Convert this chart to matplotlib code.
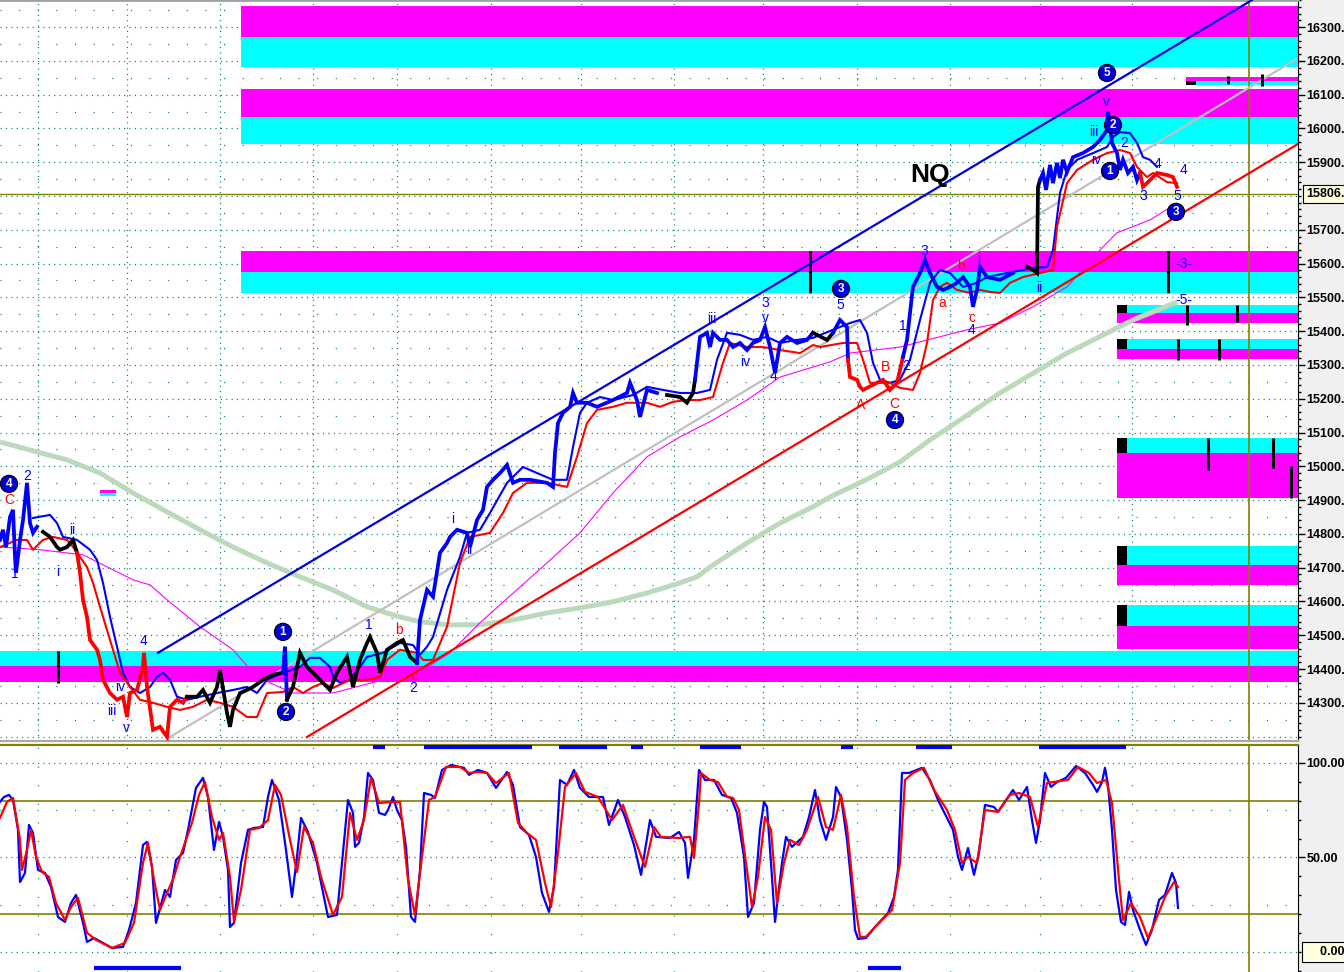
import matplotlib

matplotlib.use("Agg")
import matplotlib.pyplot as plt
import matplotlib.transforms as mtransforms
from matplotlib.patches import Rectangle
from matplotlib.ticker import FixedLocator, FuncFormatter, MultipleLocator

# ---- price (bar number, price) ----
price_x = [0, 3, 6, 10, 13, 15, 16, 20, 23, 27, 30, 33, 37, 43, 50, 57, 60, 67, 73, 77,
           80, 83, 87, 90, 97, 100, 103, 110, 117, 123, 127, 130, 137, 143, 144, 147, 153,
           160, 167, 170, 177, 183, 187, 197, 203, 210, 217, 220, 227, 230, 233, 240, 247,
           253, 263, 273, 283, 285, 287, 293, 300, 307, 313, 320, 330, 337, 347, 353, 360,
           367, 370, 377, 380, 387, 397, 403, 410, 417, 420, 427, 433, 440, 447, 450, 457,
           467, 470, 477, 483, 487, 493, 500, 507, 513, 520, 530, 547, 553, 555, 558, 563,
           570, 573, 577, 587, 597, 613, 627, 630, 637, 640, 647, 657, 667, 680, 687, 693,
           695, 697, 700, 707, 710, 713, 720, 727, 733, 740, 747, 753, 760, 765, 770, 775,
           780, 787, 797, 807, 813, 827, 833, 840, 847, 848, 850, 857, 860, 863, 873, 883,
           890, 897, 900, 903, 907, 910, 913, 920, 925, 930, 937, 943, 950, 957, 963, 970,
           973, 977, 980, 987, 1000, 1013, 1027, 1033, 1037, 1038, 1040, 1043, 1046, 1050,
           1053, 1057, 1060, 1063, 1067, 1073, 1083, 1093, 1100, 1107, 1108, 1112, 1117,
           1120, 1123, 1128, 1133, 1137, 1140, 1143, 1150, 1157, 1167, 1173, 1177]
price = [14782, 14812, 14761, 14850, 14871, 14732, 14685, 14782, 14841, 14951, 14832, 14803,
         14821, 14806, 14791, 14761, 14753, 14761, 14782, 14744, 14685, 14605, 14554, 14486,
         14457, 14427, 14368, 14329, 14309, 14318, 14258, 14329, 14338, 14406, 14448, 14347,
         14220, 14229, 14199, 14288, 14309, 14300, 14318, 14318, 14338, 14300, 14347, 14397,
         14270, 14229, 14279, 14329, 14338, 14347, 14368, 14383, 14389, 14466, 14309, 14347,
         14448, 14406, 14389, 14368, 14338, 14389, 14436, 14347, 14427, 14477, 14495, 14448,
         14389, 14457, 14477, 14486, 14436, 14418, 14545, 14634, 14614, 14744, 14773, 14791,
         14812, 14803, 14761, 14841, 14871, 14939, 14960, 14980, 15004, 14951, 14960, 14960,
         14951, 14939, 15040, 15128, 15158, 15176, 15217, 15188, 15188, 15176, 15196, 15217,
         15247, 15196, 15146, 15226, 15217, 15211, 15205, 15188, 15217, 15256, 15306, 15383,
         15395, 15353, 15395, 15374, 15374, 15353, 15365, 15344, 15365, 15374, 15412, 15353,
         15276, 15365, 15383, 15365, 15374, 15395, 15374, 15395, 15433, 15412, 15315, 15264,
         15256, 15235, 15226, 15241, 15256, 15226, 15247, 15285, 15324, 15374, 15454, 15531,
         15572, 15611, 15572, 15531, 15522, 15531, 15543, 15560, 15531, 15472, 15522, 15590,
         15560, 15552, 15572, 15590, 15581, 15572, 15827, 15847, 15868, 15818, 15892, 15838,
         15898, 15853, 15907, 15871, 15915, 15927, 15945, 15966, 15995, 16049, 15957, 15927,
         15877, 15907, 15868, 15886, 15847, 15868, 15827, 15847, 15868, 15862, 15856, 15827]
price_runs = [(0, 40, "b"), (40, 77, "k"), (77, 187, "r"), (187, 283, "k"), (283, 287, "b"),
              (287, 417, "k"), (417, 660, "b"), (660, 695, "k"), (695, 813, "b"),
              (813, 833, "k"), (833, 848, "b"), (848, 903, "r"), (903, 1020, "b"),
              (1020, 1040, "k"), (1040, 1140, "b"), (1140, 1177, "r")]

# ---- moving averages ----
ma_fast_x = [33, 50, 57, 63, 77, 90, 97, 103, 110, 117, 123, 130, 140, 150, 157, 163, 170, 177,
             187, 200, 217, 233, 247, 257, 267, 283, 300, 310, 320, 330, 333, 340, 350, 360,
             367, 383, 400, 413, 420, 427, 433, 447, 460, 467, 480, 490, 507, 523, 537, 553,
             567, 573, 580, 587, 600, 613, 633, 647, 663, 680, 697, 710, 717, 727, 740, 753,
             767, 780, 797, 813, 833, 850, 860, 867, 873, 880, 890, 900, 910, 920, 930, 940,
             950, 963, 977, 987, 1007, 1033, 1047, 1053, 1060, 1067, 1077, 1093, 1107, 1113,
             1120, 1130, 1137, 1143, 1150, 1157]
ma_fast = [14847, 14856, 14832, 14791, 14782, 14753, 14723, 14655, 14554, 14466, 14389, 14347,
           14329, 14347, 14377, 14389, 14368, 14318, 14309, 14318, 14329, 14338, 14347, 14329,
           14368, 14389, 14406, 14433, 14433, 14406, 14377, 14359, 14368, 14406, 14436, 14448,
           14477, 14471, 14442, 14466, 14495, 14634, 14732, 14803, 14812, 14862, 14951, 14998,
           14980, 14960, 14960, 15057, 15158, 15188, 15205, 15196, 15211, 15235, 15226, 15217,
           15217, 15226, 15315, 15395, 15389, 15374, 15383, 15365, 15374, 15380, 15404, 15424,
           15433, 15395, 15306, 15256, 15247, 15256, 15315, 15433, 15543, 15581, 15572, 15531,
           15543, 15560, 15572, 15587, 15590, 15640, 15809, 15877, 15907, 15927, 15945, 15975,
           15989, 15986, 15957, 15915, 15907, 15886]
ma_slow_x = [0, 17, 27, 33, 43, 53, 67, 73, 87, 93, 100, 110, 120, 130, 140, 153, 167, 180, 193,
             207, 220, 233, 247, 257, 267, 283, 293, 303, 313, 323, 333, 350, 367, 380, 387, 400,
             417, 423, 433, 447, 460, 470, 490, 503, 513, 527, 547, 567, 577, 587, 597, 613, 627,
             647, 660, 673, 687, 700, 713, 723, 730, 747, 763, 780, 800, 813, 820, 843, 857, 863,
             870, 890, 900, 913, 920, 927, 933, 940, 947, 957, 970, 980, 990, 1000, 1010, 1023,
             1040, 1053, 1057, 1067, 1077, 1093, 1107, 1120, 1130, 1137, 1147, 1153, 1167, 1177]
ma_slow = [14761, 14782, 14782, 14753, 14782, 14791, 14782, 14761, 14702, 14655, 14584, 14486,
           14389, 14347, 14309, 14300, 14288, 14279, 14288, 14309, 14300, 14288, 14258, 14258,
           14329, 14332, 14347, 14329, 14347, 14359, 14344, 14368, 14368, 14377, 14427, 14457,
           14448, 14427, 14427, 14525, 14714, 14791, 14803, 14862, 14921, 14951, 14951, 14939,
           15028, 15128, 15167, 15176, 15188, 15188, 15176, 15191, 15196, 15196, 15205, 15306,
           15365, 15353, 15353, 15344, 15335, 15359, 15353, 15365, 15365, 15315, 15247, 15247,
           15232, 15226, 15276, 15365, 15492, 15531, 15543, 15522, 15513, 15522, 15516, 15513,
           15543, 15560, 15572, 15581, 15708, 15838, 15877, 15907, 15927, 15936, 15927, 15886,
           15856, 15868, 15841, 15838]
ma_mid_x = [0, 40, 83, 133, 150, 167, 200, 233, 248, 270, 293, 333, 383, 420, 450, 480, 547,
            580, 613, 647, 680, 713, 747, 780, 830, 850, 900, 967, 1000, 1033, 1067, 1100, 1117,
            1150, 1177]
ma_mid = [14761, 14753, 14738, 14664, 14649, 14605, 14525, 14457, 14406, 14359, 14329, 14329,
          14368, 14392, 14448, 14537, 14714, 14803, 14921, 15028, 15087, 15137, 15196, 15264,
          15309, 15335, 15353, 15404, 15424, 15472, 15531, 15640, 15691, 15729, 15779]
ma_long_x = [0, 67, 100, 133, 167, 200, 233, 267, 300, 333, 367, 400, 420, 447, 480, 513, 547,
             580, 613, 647, 680, 697, 713, 747, 780, 813, 830, 870, 900, 930, 950, 1000, 1067,
             1133, 1177]
ma_long = [15072, 15019, 14980, 14921, 14865, 14812, 14761, 14714, 14673, 14634, 14584, 14554,
           14540, 14531, 14531, 14545, 14566, 14581, 14599, 14625, 14655, 14673, 14708, 14773,
           14832, 14880, 14909, 14966, 15013, 15078, 15117, 15217, 15335, 15433, 15486]

# ---- trend lines (bar, price at both ends) ----
upper_channel_x = [158, 1252]
upper_channel = [14448, 16380]
lower_channel_x = [307, 1298]
lower_channel = [14199, 15954]
mid_line_x = [170, 1298]
mid_line = [14199, 16208]

# ---- supply / demand zones ----
zone_start = [241, 241, 241, 0, 1117, 1117, 1117, 1117, 1117, 1186, 100]
zone_end = [1298, 1298, 1298, 1298, 1298, 1298, 1298, 1298, 1298, 1298, 116]
zone_cyan_lo = [16182, 15954, 15513, 14410, 15454, 15347, 15040, 14708, 14528, 16128, 14912]
zone_cyan_hi = [16270, 16034, 15575, 14454, 15478, 15377, 15084, 14764, 14590, 16140, 14921]
zone_mag_lo = [16270, 16034, 15575, 14362, 15424, 15318, 14906, 14649, 14460, 16140, 14921]
zone_mag_hi = [16362, 16117, 15637, 14410, 15454, 15347, 15040, 14708, 14528, 16152, 14930]
zone_marked = [4, 5, 6, 7, 8, 9]

marker_x = [58, 810, 1168, 1187, 1237, 1178, 1219, 1208, 1273, 1291, 1228, 1262]
marker_lo = [14359, 15513, 15513, 15418, 15427, 15315, 15315, 14989, 14995, 14906, 16131, 16126]
marker_hi = [14454, 15637, 15637, 15478, 15478, 15377, 15377, 15084, 15084, 15001, 16155, 16161]

last_price = 15806
cursor_bar = 1249

# ---- wave labels ----
circle_text = ["4", "1", "2", "3", "4", "5", "2", "1", "3"]
circle_x = [9, 283, 286, 841, 895, 1107, 1113, 1110, 1176]
circle_y = [14948, 14510, 14273, 15525, 15137, 16164, 16010, 15874, 15753]
blue_text = ["2", "1", "ii", "i", "iii", "iv", "v", "4", "1", "2", "i", "ii", "iii", "3", "v",
             "iv", "4", "5", "1", "2", "3", "i", "4", "ii", "iii", "iv", "v", "2", "3", "4",
             "5", "4", "-3-", "-5-"]
blue_x = [27, 15, 72, 58, 112, 120, 126, 143, 369, 413, 453, 469, 712, 765, 765, 745, 773,
          840, 903, 906, 924, 979, 972, 1039, 1094, 1096, 1106, 1124, 1143, 1157, 1177, 1183,
          1184, 1184]
blue_y = [14972, 14682, 14812, 14687, 14276, 14347, 14226, 14483, 14531, 14344, 14844, 14753,
          15436, 15483, 15439, 15309, 15267, 15477, 15415, 15297, 15637, 15614, 15404, 15528,
          15989, 15907, 16078, 15957, 15800, 15895, 15800, 15877, 15599, 15492]
red_text = ["C", "b", "c", "A", "B", "C", "a", "b", "c"]
red_x = [9, 399, 414, 861, 885, 894, 942, 961, 972]
red_y = [14900, 14516, 14380, 15182, 15294, 15185, 15483, 15593, 15439]

# ---- stochastic oscillator ----
stoch_k_x = [0, 4, 9, 13, 18, 20, 25, 29, 33, 38, 45, 51, 58, 65, 71, 76, 83, 87, 94, 103, 112,
             123, 129, 136, 143, 147, 152, 156, 165, 170, 176, 183, 188, 196, 203, 208, 212,
             214, 219, 223, 228, 230, 234, 241, 248, 254, 263, 268, 272, 279, 286, 292, 297,
             301, 308, 317, 328, 337, 342, 348, 353, 355, 359, 364, 368, 373, 379, 385, 388,
             393, 397, 402, 406, 411, 415, 420, 424, 431, 435, 442, 451, 464, 469, 478, 487,
             496, 507, 513, 520, 529, 536, 542, 549, 554, 560, 567, 574, 580, 589, 603, 609,
             618, 625, 634, 641, 650, 656, 670, 679, 685, 688, 694, 699, 705, 714, 722, 731,
             737, 744, 748, 754, 760, 764, 767, 771, 775, 782, 786, 792, 803, 809, 815, 820,
             826, 833, 836, 841, 847, 852, 855, 858, 866, 875, 888, 894, 898, 902, 909, 922,
             930, 938, 947, 953, 958, 962, 968, 974, 979, 985, 994, 998, 1006, 1013, 1019,
             1027, 1032, 1036, 1040, 1045, 1051, 1057, 1066, 1076, 1085, 1093, 1097, 1102,
             1105, 1108, 1112, 1116, 1121, 1125, 1129, 1133, 1140, 1146, 1152, 1159, 1165,
             1172, 1176, 1178]
stoch_k = [79.4, 82.0, 83.1, 80.4, 64.6, 37.0, 41.8, 67.2, 63.0, 43.4, 41.8, 34.4, 18.5, 15.9,
           25.9, 30.2, 15.4, 5.3, 7.4, 4.8, 2.1, 2.7, 11.7, 25.9, 56.6, 58.2, 45.0, 15.4, 32.8,
           29.1, 48.7, 52.4, 64.6, 86.8, 92.1, 82.0, 63.0, 54.0, 68.8, 60.9, 43.4, 13.2, 15.4,
           47.1, 64.6, 65.6, 66.1, 82.0, 91.0, 80.4, 54.0, 29.1, 50.3, 70.9, 63.5, 47.1, 18.5,
           19.6, 47.1, 80.4, 73.6, 55.6, 57.7, 71.4, 94.7, 91.0, 73.6, 72.5, 75.1, 82.0, 75.1,
           69.8, 55.6, 18.5, 15.9, 43.4, 84.1, 83.1, 81.5, 96.3, 98.9, 97.4, 93.7, 96.3, 94.7,
           86.8, 95.2, 88.4, 66.1, 61.9, 50.3, 31.2, 21.2, 34.4, 91.0, 88.4, 96.3, 86.8, 82.0,
           82.0, 67.2, 80.4, 71.4, 56.6, 40.8, 69.8, 60.9, 60.3, 63.5, 57.7, 39.2, 59.3, 96.3,
           91.0, 91.0, 83.1, 81.5, 73.6, 50.3, 18.5, 25.9, 64.6, 79.4, 76.7, 47.1, 15.9, 47.1,
           60.9, 55.6, 60.9, 71.4, 85.7, 69.8, 59.3, 71.4, 87.3, 82.0, 59.3, 32.8, 11.7, 6.9,
           7.4, 13.2, 20.6, 29.1, 43.4, 94.7, 94.7, 97.4, 91.0, 80.4, 70.9, 64.6, 50.3, 43.4,
           55.0, 40.8, 52.4, 77.8, 76.7, 74.1, 80.4, 85.7, 80.4, 87.3, 69.8, 57.7, 69.8, 94.7,
           87.3, 89.9, 92.1, 98.4, 94.7, 88.4, 84.7, 89.9, 97.4, 88.4, 64.6, 32.8, 15.9, 14.3,
           31.8, 22.2, 11.7, 3.7, 11.7, 27.5, 30.2, 41.8, 36.5, 23.3]
stoch_d_x = [0, 7, 13, 20, 22, 27, 31, 36, 42, 49, 56, 65, 71, 78, 87, 96, 112, 125, 134, 143,
             148, 154, 160, 167, 174, 179, 192, 199, 205, 212, 219, 223, 230, 234, 241, 250,
             259, 268, 275, 281, 290, 297, 304, 313, 321, 333, 342, 350, 357, 364, 371, 379,
             393, 400, 408, 415, 422, 429, 435, 446, 460, 469, 478, 487, 496, 509, 518, 527,
             536, 545, 551, 558, 565, 576, 585, 598, 612, 623, 634, 645, 654, 661, 679, 690,
             694, 699, 701, 710, 718, 727, 733, 739, 746, 752, 758, 765, 771, 777, 784, 790,
             799, 807, 818, 826, 833, 841, 847, 854, 860, 866, 879, 892, 900, 905, 913, 924,
             934, 947, 955, 962, 968, 977, 985, 998, 1010, 1019, 1030, 1038, 1047, 1053, 1068,
             1078, 1089, 1097, 1106, 1112, 1119, 1123, 1131, 1140, 1148, 1157, 1165, 1174, 1178]
stoch_d = [70.9, 79.4, 81.5, 59.3, 43.4, 54.0, 64.6, 50.3, 42.3, 39.7, 25.9, 16.9, 23.8, 28.6,
           10.1, 6.4, 2.1, 4.8, 15.4, 47.1, 57.7, 38.1, 22.2, 31.2, 39.7, 48.7, 68.3, 83.1, 89.9,
           71.4, 59.3, 63.0, 39.7, 15.9, 32.8, 64.6, 65.6, 69.8, 88.4, 83.1, 59.3, 42.3, 66.1,
           57.7, 39.7, 19.6, 29.1, 73.6, 59.3, 69.8, 92.1, 78.8, 79.4, 79.4, 38.1, 19.6, 50.3,
           80.4, 82.0, 97.9, 97.9, 94.7, 95.2, 94.7, 89.4, 94.7, 68.3, 63.0, 59.3, 36.5, 23.8,
           52.4, 87.3, 94.7, 84.7, 82.0, 69.8, 77.8, 60.9, 45.0, 66.1, 60.9, 60.3, 60.9, 49.7,
           78.8, 94.7, 91.0, 89.9, 82.0, 81.5, 75.1, 47.1, 23.8, 39.7, 71.4, 64.6, 25.9, 47.1,
           59.3, 56.6, 64.6, 82.0, 66.1, 64.6, 83.1, 66.1, 29.1, 8.0, 8.0, 15.4, 22.2, 47.1,
           91.0, 94.7, 97.4, 85.7, 75.1, 64.6, 47.1, 50.3, 47.1, 75.1, 74.1, 83.1, 84.1, 82.0,
           66.1, 89.4, 89.9, 91.0, 97.9, 94.7, 89.4, 91.0, 78.8, 38.1, 16.9, 25.9, 18.5, 7.4,
           18.5, 29.1, 37.0, 34.4]
signal_top_start = [373, 424, 559, 631, 700, 841, 916, 1039]
signal_top_end = [385, 532, 607, 643, 741, 853, 952, 1126]
signal_bottom_start = [94, 868]
signal_bottom_end = [181, 901]

grid_bars = [38, 127, 220, 313, 397, 491, 581, 674, 763, 857, 950, 1040, 1132]

BLUE = "#0000ff"
RED = "#ff0000"
TEAL = "#008080"
OLIVE = "#808000"
COLORS = {"b": BLUE, "r": RED, "k": "#000000"}
W, H = 1344, 972
PLOT_R = 1298

plt.rcParams["font.family"] = ["Liberation Sans", "DejaVu Sans"]

fig = plt.figure(figsize=(W / 100, H / 100), dpi=100)
fig.patches.append(Rectangle((PLOT_R / W, 0), 1 - PLOT_R / W, 1, transform=fig.transFigure,
                             facecolor="#f0f0f0", edgecolor="none", zorder=-1))
ax = fig.add_axes([0, 231 / H, PLOT_R / W, 741 / H])
ax2 = fig.add_axes([0, 0, PLOT_R / W, 227 / H])

# ---------------- price panel ----------------
ax.set_xlim(0, PLOT_R)
ax.set_ylim(14187, 16380)
dense = (0, (0.9, 3.4))
for lvl in range(14200, 16400, 100):
    ax.axhline(lvl, color=TEAL, lw=0.9, ls=dense, zorder=0.5)
    ax.axhline(lvl + 50, color=TEAL, lw=0.9, ls=(0, (0.9, 14)), zorder=0.5)
for gx in grid_bars:
    ax.axvline(gx, color=TEAL, lw=0.9, ls=dense, zorder=0.5)

for i in range(len(zone_start)):
    w = zone_end[i] - zone_start[i]
    ax.add_patch(Rectangle((zone_start[i], zone_cyan_lo[i]), w, zone_cyan_hi[i] - zone_cyan_lo[i],
                           facecolor="#00ffff", edgecolor="none", zorder=1))
    ax.add_patch(Rectangle((zone_start[i], zone_mag_lo[i]), w, zone_mag_hi[i] - zone_mag_lo[i],
                           facecolor="#ff00ff", edgecolor="none", zorder=1))
for i in zone_marked:
    ax.add_patch(Rectangle((zone_start[i], zone_cyan_lo[i]), 10, zone_cyan_hi[i] - zone_cyan_lo[i],
                           facecolor="black", edgecolor="none", zorder=1.5))
ax.vlines(marker_x, marker_lo, marker_hi, color="black", lw=2.2, zorder=3)

ax.axhline(last_price, color=OLIVE, lw=1.0, zorder=2)
ax.axvline(cursor_bar, color=OLIVE, lw=1.2, zorder=2)

ax.plot(ma_long_x, ma_long, color="#bcd9bc", lw=3.6, solid_capstyle="butt", zorder=2)
ax.plot(ma_mid_x, ma_mid, color="#ff00ff", lw=0.8, zorder=2.2)
ax.plot(mid_line_x, mid_line, color="#c0c0c0", lw=1.6, zorder=2.3)
ax.plot(ma_fast_x, ma_fast, color=BLUE, lw=1.5, zorder=3)
ax.plot(ma_slow_x, ma_slow, color=RED, lw=1.5, zorder=3)

for start, end, c in price_runs:
    idx = [i for i, x in enumerate(price_x) if start <= x <= end]
    ax.plot([price_x[i] for i in idx], [price[i] for i in idx], color=COLORS[c], lw=2.7,
            solid_joinstyle="miter", zorder=4)

ax.plot(upper_channel_x, upper_channel, color="#0000e0", lw=1.6, zorder=4.5)
ax.plot(lower_channel_x, lower_channel, color=RED, lw=1.6, zorder=4.5)

for t, x, y in zip(blue_text, blue_x, blue_y):
    ax.text(x, y, t, color=BLUE, fontsize=10, ha="center", va="center", zorder=6)
for t, x, y in zip(red_text, red_x, red_y):
    ax.text(x, y, t, color=RED, fontsize=10, ha="center", va="center", zorder=6)
for t, x, y in zip(circle_text, circle_x, circle_y):
    ax.text(x, y, t, color="white", fontsize=8.5, fontweight="bold", ha="center", va="center",
            zorder=7, bbox=dict(boxstyle="circle,pad=0.22", facecolor="#0000dd",
                                edgecolor="black", linewidth=0.8))
ax.text(930, 15862, "NQ", fontsize=19, fontweight="bold", color="black", ha="center",
        va="center", zorder=6)

ax.yaxis.tick_right()
ax.yaxis.set_major_locator(FixedLocator([v for v in range(14300, 16301, 100) if v != 15800]))
ax.yaxis.set_major_formatter(FuncFormatter(lambda v, p: f"{v:.0f}."))
ax.yaxis.set_minor_locator(MultipleLocator(20))
ax.tick_params(axis="y", which="major", length=5, width=1, pad=1, labelsize=9)
ax.tick_params(axis="y", which="minor", length=2, width=1)
for lbl in ax.get_yticklabels():
    lbl.set_fontweight("bold")
ax.set_xticks([])
box_tr = mtransforms.blended_transform_factory(ax.transAxes, ax.transData)
ax.text(1.006, last_price, f"{last_price}.", transform=box_tr, fontsize=9, fontweight="bold",
        ha="left", va="center", clip_on=False,
        bbox=dict(boxstyle="square,pad=0.25", facecolor="#ffffe0", edgecolor="black", lw=0.8))
ax.spines["left"].set_visible(False)
ax.spines["top"].set_color("#a0a0a0")
ax.spines["top"].set_linewidth(2)
ax.spines["bottom"].set_color("#a8a8a8")
ax.spines["bottom"].set_linewidth(1.6)
ax.spines["right"].set_color("black")

# ---------------- stochastic panel ----------------
ax2.set_xlim(0, PLOT_R)
ax2.set_ylim(-10.6, 109.5)
for lvl in (100, 50, 0):
    ax2.axhline(lvl, color=TEAL, lw=0.9, ls=dense, zorder=0.5)
for lvl in (75, 25):
    ax2.axhline(lvl, color=TEAL, lw=0.9, ls=(0, (0.9, 14)), zorder=0.5)
for gx in grid_bars:
    ax2.axvline(gx, color=TEAL, lw=0.9, ls=(0, (0.9, 14)), zorder=0.5)
ax2.axhline(80, color=OLIVE, lw=1.2, zorder=1)
ax2.axhline(20, color=OLIVE, lw=1.2, zorder=1)
ax2.axvline(cursor_bar, color=OLIVE, lw=1.2, zorder=1)

ax2.plot(stoch_k_x, stoch_k, color=BLUE, lw=1.6, zorder=3)
ax2.plot(stoch_d_x, stoch_d, color=RED, lw=1.6, zorder=3.5)
ax2.hlines([108.3] * len(signal_top_start), signal_top_start, signal_top_end, color=BLUE, lw=3,
           zorder=4)
ax2.hlines([-8.5] * len(signal_bottom_start), signal_bottom_start, signal_bottom_end, color=BLUE,
           lw=3, zorder=4)

ax2.yaxis.tick_right()
ax2.yaxis.set_major_locator(FixedLocator([50, 100]))
ax2.yaxis.set_major_formatter(FuncFormatter(lambda v, p: f"{v:.2f}"))
ax2.yaxis.set_minor_locator(MultipleLocator(10))
ax2.tick_params(axis="y", which="major", length=5, width=1, pad=1, labelsize=9)
ax2.tick_params(axis="y", which="minor", length=2, width=1)
for lbl in ax2.get_yticklabels():
    lbl.set_fontweight("bold")
ax2.set_xticks([])
box_tr2 = mtransforms.blended_transform_factory(ax2.transAxes, ax2.transData)
ax2.text(1.006, 0, "    0.00", transform=box_tr2, fontsize=9, fontweight="bold", ha="left",
         va="center", clip_on=False,
         bbox=dict(boxstyle="square,pad=0.3", facecolor="#ffffe0", edgecolor="black", lw=0.8))
ax2.spines["left"].set_visible(False)
ax2.spines["bottom"].set_visible(False)
ax2.spines["top"].set_color(OLIVE)
ax2.spines["top"].set_linewidth(1.6)
ax2.spines["right"].set_color("black")

fig.savefig("out.png", dpi=100)
plt.close(fig)
